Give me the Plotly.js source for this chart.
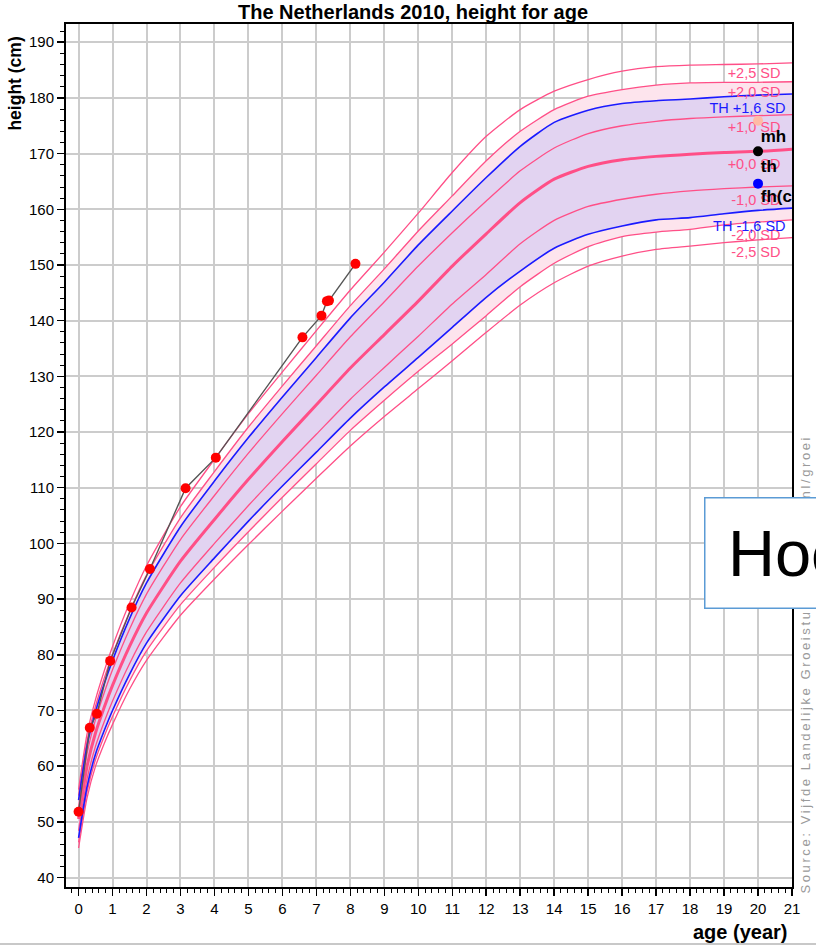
<!DOCTYPE html>
<html>
<head>
<meta charset="utf-8">
<script src="https://cdn.plot.ly/plotly-3.0.1.min.js"></script>
<style>
html,body{margin:0;padding:0;overflow:hidden;background:#fff}
#chart{width:816px;height:946px}
.annotation[data-index="2"] text{letter-spacing:2.6px}
</style>
</head>
<body>
<div id="chart"></div>
<script>
// ---- reference curves (age in years, height in cm) ----
var ages = [0, 0.25, 0.5, 0.75, 1, 1.5, 2, 3, 4, 5, 6, 7, 8, 9, 10, 11, 12, 13, 14, 15, 16, 17, 18, 19, 20, 21];
var sdP25 = [55.8, 65.8, 72.0, 77.0, 81.5, 89.3, 96.0, 106.6, 115.1, 123.3, 130.8, 138.2, 145.5, 152.3, 159.3, 166.6, 173.1, 177.9, 181.2, 183.3, 184.8, 185.6, 185.9, 186.0, 186.1, 186.3];
var sdP20 = [54.7, 64.6, 70.8, 75.7, 80.1, 87.7, 94.3, 104.6, 112.9, 120.9, 128.3, 135.5, 142.7, 149.3, 156.1, 162.4, 168.7, 174.0, 177.9, 180.3, 181.5, 182.3, 182.7, 182.8, 182.8, 182.9];
var sdP10 = [52.6, 62.3, 68.4, 73.1, 77.3, 84.6, 90.9, 100.7, 108.6, 116.2, 123.3, 130.2, 137.1, 143.4, 149.8, 155.8, 161.5, 166.9, 171.0, 173.6, 175.0, 175.8, 176.3, 176.6, 176.8, 177.0];
var sd00  = [50.5, 60.0, 66.0, 70.5, 74.5, 81.5, 87.5, 96.8, 104.3, 111.5, 118.3, 124.9, 131.5, 137.5, 143.5, 149.8, 155.6, 161.2, 165.4, 167.7, 168.9, 169.5, 169.9, 170.2, 170.4, 170.8];
var sdM10 = [48.4, 57.7, 63.6, 67.9, 71.7, 78.4, 84.1, 92.9, 100.0, 106.8, 113.3, 119.6, 125.9, 131.6, 137.2, 143.0, 148.3, 153.8, 158.0, 160.5, 161.8, 162.7, 163.3, 163.7, 164.0, 164.2];
var sdM20 = [46.3, 55.4, 61.2, 65.3, 68.9, 75.3, 80.7, 89.0, 95.7, 102.1, 108.3, 114.3, 120.3, 125.7, 130.9, 135.8, 140.9, 146.1, 150.3, 153.3, 155.1, 155.9, 156.4, 157.2, 157.7, 158.1];
var sdM25 = [45.3, 54.3, 60.0, 64.0, 67.5, 73.8, 79.0, 87.1, 93.6, 99.8, 105.8, 111.7, 117.5, 122.8, 127.8, 132.8, 137.9, 142.8, 146.8, 149.8, 151.6, 152.8, 153.4, 154.0, 154.5, 154.9];
var thP16 = [53.9, 63.7, 69.8, 74.7, 79.0, 86.5, 92.9, 103.0, 111.2, 119.0, 126.3, 133.4, 140.5, 146.9, 153.6, 159.7, 165.7, 171.3, 175.6, 177.8, 179.0, 179.5, 179.8, 180.2, 180.5, 180.7];
var thM16 = [47.1, 56.3, 62.2, 66.3, 70.0, 76.5, 82.1, 90.6, 97.4, 104.0, 110.3, 116.4, 122.5, 128.1, 133.4, 138.8, 144.2, 148.9, 153.0, 155.5, 157.0, 158.1, 158.5, 159.2, 159.8, 160.2];

// ---- child measurements ----
var childAge = [0.0, 0.33, 0.54, 0.93, 1.56, 2.10, 3.15, 4.04, 6.59, 7.15, 7.31, 7.37, 8.15];
var childHeight = [51.8, 66.9, 69.4, 78.9, 88.5, 95.4, 109.9, 115.4, 137.0, 140.9, 143.5, 143.6, 150.2];

// ---- parental heights ----
var parentAge = [20, 20, 20];
var parentHeight = [175.9, 170.4, 164.6];
var parentNames = ['mh', 'th', 'fh(cm)'];
var parentLabelHeight = [172.9, 167.4, 162.1];

// ---- curve labels ----
var sdLabels = ['+2,5 SD', '+2,0 SD', '+1,0 SD', '+0,0 SD', '-1,0 SD', '-2,0 SD', '-2,5 SD'];
var sdLabelY = [184.2, 180.9, 174.5, 167.9, 161.4, 155.1, 152.0];
var thLabels = ['TH +1,6 SD', 'TH -1,6 SD'];
var thLabelY = [177.9, 156.8];

var xTicks = [0,1,2,3,4,5,6,7,8,9,10,11,12,13,14,15,16,17,18,19,20,21];
var yTicks = [40,50,60,70,80,90,100,110,120,130,140,150,160,170,180,190];

var PINK = '#ff4f87', BLUE = '#1a1aff';
var FONT = 'Liberation Sans, Arial, sans-serif';

function line(y, color, width) {
  return {x: ages, y: y, mode: 'lines', line: {color: color, width: width, shape: 'spline', smoothing: 0.6}, hoverinfo: 'skip'};
}

var traces = [];
// pink band between -2 and +2 SD
traces.push({x: ages, y: sdM20, mode: 'lines', line: {width: 0, shape: 'spline', smoothing: 0.6}, hoverinfo: 'skip'});
traces.push({x: ages, y: sdP20, mode: 'lines', line: {width: 0, shape: 'spline', smoothing: 0.6}, fill: 'tonexty', fillcolor: '#fde4ed', hoverinfo: 'skip'});
// lavender target band
traces.push({x: ages, y: thM16, mode: 'lines', line: {width: 0, shape: 'spline', smoothing: 0.6}, hoverinfo: 'skip'});
traces.push({x: ages, y: thP16, mode: 'lines', line: {width: 0, shape: 'spline', smoothing: 0.6}, fill: 'tonexty', fillcolor: '#e2d3f1', hoverinfo: 'skip'});
// visible curves
traces.push(line(sdP25, PINK, 1.3));
traces.push(line(sdP20, PINK, 1.3));
traces.push(line(sdP10, PINK, 1.3));
traces.push(line(sdM10, PINK, 1.3));
traces.push(line(sdM20, PINK, 1.3));
traces.push(line(sdM25, PINK, 1.3));
traces.push(line(sd00, PINK, 3));
traces.push(line(thP16, BLUE, 1.6));
traces.push(line(thM16, BLUE, 1.6));
// curve labels
traces.push({x: sdLabels.map(function(){return 20.66;}), y: sdLabelY, text: sdLabels, mode: 'text', textposition: 'middle left', textfont: {family: FONT, size: 14.5, color: PINK}, cliponaxis: true, hoverinfo: 'skip'});
traces.push({x: thLabels.map(function(){return 20.81;}), y: thLabelY, text: thLabels, mode: 'text', textposition: 'middle left', textfont: {family: FONT, size: 14.5, color: BLUE}, cliponaxis: true, hoverinfo: 'skip'});
// child growth
traces.push({x: childAge, y: childHeight, mode: 'lines+markers', line: {color: '#555555', width: 1.4}, marker: {color: '#ff0000', size: 10}, cliponaxis: true, hoverinfo: 'skip'});
// parental heights
traces.push({x: parentAge, y: parentHeight, mode: 'markers', marker: {color: ['#ffbba6', '#000000', '#0000ff'], size: 10}, hoverinfo: 'skip'});
traces.push({x: parentAge.map(function(a){return a + 0.08;}), y: parentLabelHeight, text: parentNames.map(function(t){return '<b>' + t + '</b>';}), mode: 'text', textposition: 'middle right', textfont: {family: FONT, size: 17, color: '#000'}, cliponaxis: true, hoverinfo: 'skip'});

var axisCommon = {
  showline: true, linecolor: '#000', linewidth: 2, mirror: true,
  showgrid: true, gridcolor: '#cccccc', gridwidth: 2, zeroline: false,
  ticks: 'outside', ticklen: 7, tickwidth: 1.5, tickcolor: '#000',
  tickfont: {family: FONT, size: 15, color: '#000'}
};

var layout = {
  width: 816, height: 946,
  margin: {l: 66, r: 24, t: 24, b: 59, pad: 0},
  paper_bgcolor: '#fff', plot_bgcolor: '#fff', showlegend: false,
  title: {text: '<b>The Netherlands 2010, height for age</b>', font: {family: FONT, size: 20, color: '#000'}, x: 0.478, xref: 'paper', xanchor: 'center', y: 0.9873, yref: 'container', yanchor: 'middle'},
  xaxis: Object.assign({}, axisCommon, {range: [-0.37, 21.0], tickmode: 'array', tickvals: xTicks, ticktext: xTicks.map(String),
    minor: {dtick: 0.2, tick0: 0, ticklen: 4, tickwidth: 1, tickcolor: '#000', ticks: 'outside', showgrid: false}}),
  yaxis: Object.assign({}, axisCommon, {range: [38.3, 193.27], tickmode: 'array', tickvals: yTicks, ticktext: yTicks.map(String),
    minor: {dtick: 2, tick0: 40, ticklen: 4, tickwidth: 1, tickcolor: '#000', ticks: 'outside', showgrid: false}}),
  annotations: [
    {text: '<b>age (year)</b>', xref: 'paper', yref: 'paper', x: 0.997, y: -0.0522, xanchor: 'right', yanchor: 'middle', showarrow: false, font: {family: FONT, size: 20, color: '#000'}},
    {text: '<b>height (cm)</b>', xref: 'paper', yref: 'paper', x: -0.0702, y: 0.9310, xanchor: 'center', yanchor: 'middle', textangle: -90, showarrow: false, font: {family: FONT, size: 17.5, color: '#000'}},
    {text: 'Source: Vijfde Landelijke Groeistudie, www.tno.nl/groei', xref: 'paper', yref: 'paper', x: 1.0179, y: 0.2584, xanchor: 'center', yanchor: 'middle', textangle: -90, showarrow: false, font: {family: FONT, size: 13, color: '#9a9a9a'}},
    {text: '&nbsp;', xref: 'paper', yref: 'paper', x: 0.8788, y: 0.4514, xanchor: 'left', yanchor: 'top', width: 200, height: 109, bgcolor: '#ffffff', bordercolor: '#5b9bd5', borderwidth: 1.5, borderpad: 0, showarrow: false},
    {text: 'Hoogte', xref: 'paper', yref: 'paper', x: 0.9085, y: 0.3867, xanchor: 'left', yanchor: 'middle', showarrow: false, font: {family: FONT, size: 65, color: '#000'}}
  ],
  shapes: [
    {type: 'line', xref: 'paper', yref: 'paper', x0: -0.2, x1: 1.2, y0: -0.0661, y1: -0.0661, line: {color: '#c8c8c8', width: 2}}
  ]
};

Plotly.newPlot('chart', traces, layout, {staticPlot: true, displayModeBar: false});
</script>
</body>
</html>
